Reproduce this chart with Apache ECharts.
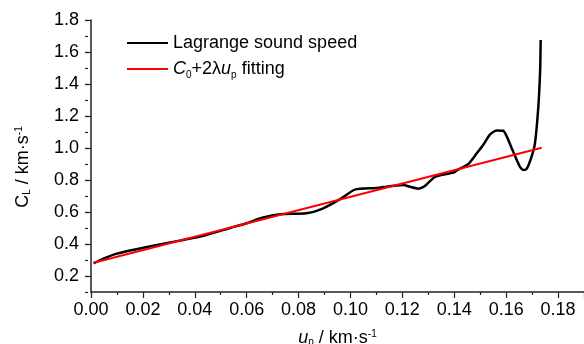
<!DOCTYPE html>
<html>
<head>
<meta charset="utf-8">
<script src="https://cdn.jsdelivr.net/npm/echarts@6/dist/echarts.min.js"></script>
<style>
  html, body { margin: 0; padding: 0; background: #fff; }
  #chart { width: 584px; height: 344px; }
</style>
</head>
<body>
<div id="chart"></div>
<script>
// Lagrange sound speed curve (up in km/s, CL in km/s)
const upValues = [0.001, 0.005, 0.010, 0.017, 0.030, 0.043, 0.054, 0.060, 0.066, 0.073,
  0.083, 0.0895, 0.096, 0.1017, 0.110, 0.1204, 0.1229, 0.1261, 0.1287, 0.1326,
  0.1396, 0.141, 0.1454, 0.1486, 0.1512, 0.1538, 0.1563, 0.1589, 0.1621, 0.1653,
  0.1666, 0.1679, 0.1698, 0.1711, 0.1724, 0.1731, 0.1733];
const clValues = [0.279, 0.310, 0.340, 0.366, 0.408, 0.450, 0.502, 0.530, 0.564, 0.586,
  0.592, 0.623, 0.680, 0.740, 0.750, 0.768, 0.758, 0.746, 0.763, 0.820,
  0.846, 0.860, 0.900, 0.965, 1.020, 1.085, 1.110, 1.108, 1.000, 0.883,
  0.862, 0.869, 0.946, 1.029, 1.258, 1.487, 1.675];
// linear fit end points
const fitUp = [0.001, 0.1737];
const fitCl = [0.283, 1.002];

const yTicks = [0.2, 0.4, 0.6, 0.8, 1.0, 1.2, 1.4, 1.6, 1.8];
const seriesNames = ['Lagrange sound speed', 'fit'];

var chartDom = document.getElementById('chart');
var myChart = echarts.init(chartDom);
var option;

const font = "'Liberation Sans', Arial, sans-serif";
const richText = {
  n: { fontFamily: font, fontSize: 18, color: '#000' },
  i: { fontFamily: font, fontSize: 18, fontStyle: 'italic', color: '#000' },
  sub: { fontFamily: font, fontSize: 10, color: '#000', verticalAlign: 'bottom' },
  sup: { fontFamily: font, fontSize: 10, color: '#000', verticalAlign: 'top' }
};
const axisColor = '#222';

option = {
  backgroundColor: '#fff',
  animation: false,
  grid: { left: 91, right: 0, top: 20, bottom: 52, outerBoundsMode: 'none' },
  legend: {
    orient: 'vertical',
    left: 127,
    top: 32,
    padding: 0,
    icon: 'rect',
    itemWidth: 41,
    itemHeight: 2,
    itemGap: 4,
    data: seriesNames,
    formatter: function (name) {
      if (name === 'fit') return '{i|C}{sub|0}{n|+2λ}{i|u}{sub|p}{n| fitting}';
      return '{n|' + name + '}';
    },
    textStyle: { fontFamily: font, fontSize: 18, color: '#000', lineHeight: 22, rich: richText }
  },
  xAxis: {
    type: 'value',
    min: 0,
    max: 0.19,
    interval: 0.02,
    name: '{i|u}{sub|p}{n| / km·s}{sup|-1}',
    nameLocation: 'middle',
    nameGap: 37,
    nameTextStyle: { rich: richText },
    axisLine: { lineStyle: { color: axisColor, width: 1.5 } },
    axisTick: { length: 6, lineStyle: { color: axisColor, width: 1.2 } },
    minorTick: { show: true, splitNumber: 2, length: 3, lineStyle: { color: axisColor, width: 1.2 } },
    splitLine: { show: false },
    axisLabel: {
      margin: 9,
      showMaxLabel: false,
      fontFamily: font,
      fontSize: 18,
      color: '#000',
      formatter: function (v) { return v.toFixed(2); }
    }
  },
  yAxis: [
    {
      type: 'value',
      min: 0.1,
      max: 1.8,
      offset: 3,
      name: '{n|C}{sub|L}{n| / km·s}{sup|-1}',
      nameLocation: 'middle',
      nameGap: 56,
      nameTextStyle: { rich: richText, padding: [0, 22, 0, 0] },
      axisLine: { show: true, lineStyle: { color: axisColor, width: 1.5 } },
      axisTick: { length: 6, customValues: yTicks, lineStyle: { color: axisColor, width: 1.2 } },
      splitLine: { show: false },
      axisLabel: {
        margin: 9,
        customValues: yTicks,
        fontFamily: font,
        fontSize: 18,
        color: '#000',
        formatter: function (v) { return v.toFixed(1); }
      }
    },
    {
      // minor ticks every 0.1
      type: 'value',
      min: 0.1,
      max: 1.8,
      interval: 0.1,
      offset: 3,
      position: 'left',
      axisLine: { show: false },
      axisTick: { length: 3, lineStyle: { color: axisColor, width: 1.2 } },
      axisLabel: { show: false },
      splitLine: { show: false }
    }
  ],
  series: [
    {
      name: seriesNames[0],
      type: 'line',
      symbol: 'none',
      smooth: 0.2,
      data: upValues.map(function (u, i) { return [u, clValues[i]]; }),
      lineStyle: { color: '#000', width: 2.5 },
      itemStyle: { color: '#000' },
      z: 2
    },
    {
      name: seriesNames[1],
      type: 'line',
      symbol: 'none',
      data: fitUp.map(function (u, i) { return [u, fitCl[i]]; }),
      lineStyle: { color: '#ff0000', width: 2 },
      itemStyle: { color: '#ff0000' },
      z: 3
    }
  ]
};

option && myChart.setOption(option);
</script>
</body>
</html>
